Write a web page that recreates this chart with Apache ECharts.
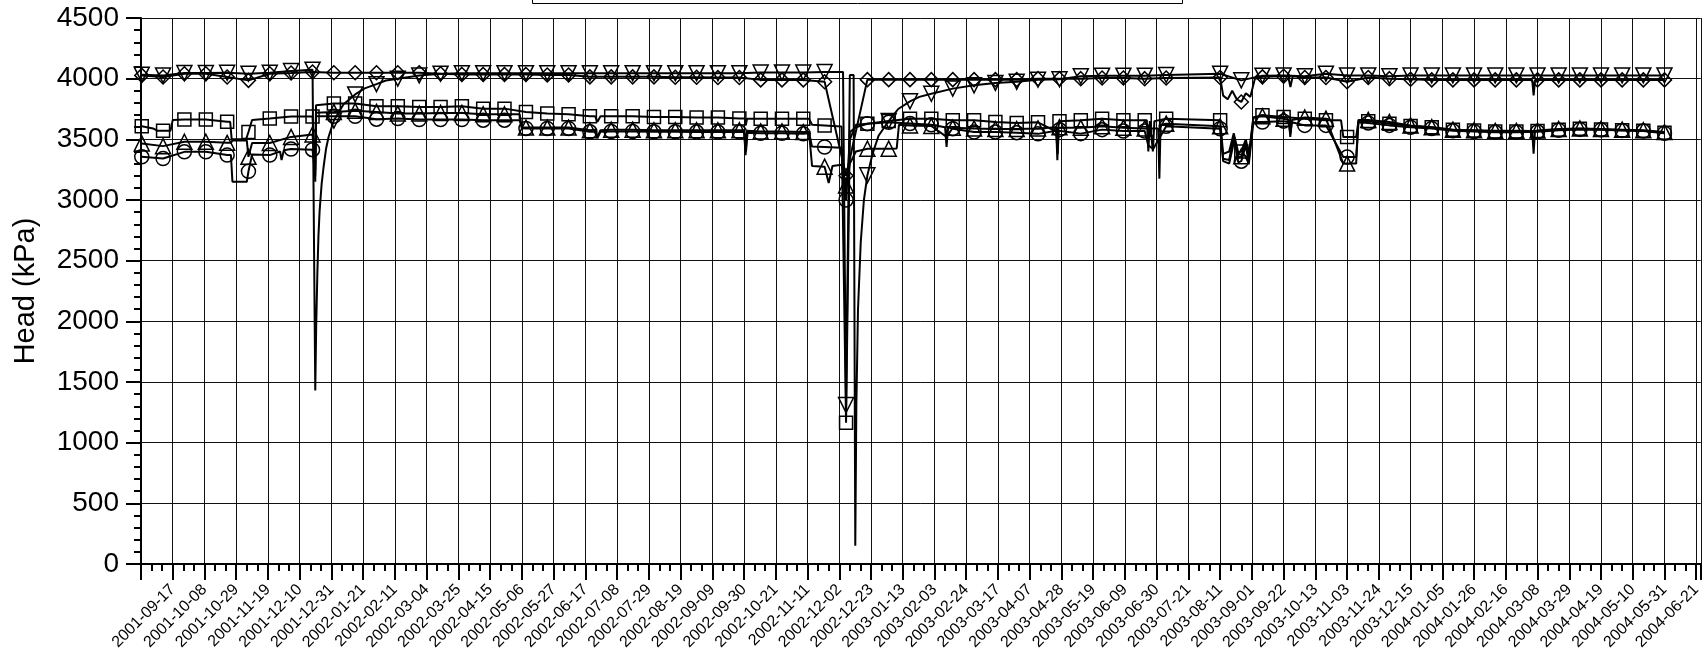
<!DOCTYPE html>
<html><head><meta charset="utf-8">
<script src="https://cdn.jsdelivr.net/npm/echarts@6/dist/echarts.min.js"></script>
<style>html,body{margin:0;padding:0;background:#fff;overflow:hidden}#c{width:1704px;height:653px}</style>
</head><body><div id="c"></div>
<script>
// x values are days after 2001-08-27
const xTickLabels = ['2001-09-17','2001-10-08','2001-10-29','2001-11-19','2001-12-10','2001-12-31','2002-01-21','2002-02-11','2002-03-04','2002-03-25','2002-04-15','2002-05-06','2002-05-27','2002-06-17','2002-07-08','2002-07-29','2002-08-19','2002-09-09','2002-09-30','2002-10-21','2002-11-11','2002-12-02','2002-12-23','2003-01-13','2003-02-03','2003-02-24','2003-03-17','2003-04-07','2003-04-28','2003-05-19','2003-06-09','2003-06-30','2003-07-21','2003-08-11','2003-09-01','2003-09-22','2003-10-13','2003-11-03','2003-11-24','2003-12-15','2004-01-05','2004-01-26','2004-02-16','2004-03-08','2004-03-29','2004-04-19','2004-05-10','2004-05-31','2004-06-21'];
const markerDays = [0.5,14.6,28.7,42.9,57.0,71.1,85.2,99.3,113.5,127.6,141.7,155.8,169.9,184.1,198.2,212.3,226.4,240.5,254.7,268.8,282.9,297.0,311.1,325.3,339.4,353.5,367.6,381.7,395.9,410.0,424.1,438.2,452.3,466.5,480.6,494.7,508.8,522.9,537.1,551.2,565.3,579.4,593.5,607.7,621.8,635.9,650.0,664.1,678.3,
714,728,742,756,770,784,798,812,826,840,854,868,882,896,910,924,938,952,966,980,994,1008];

const diamondVals = [4027,4014,4041,4041,4014,3986,4041,4047,4055,4049,4049,4049,4049,4049,4041,4035,4035,4035,4035,4030,4030,4015,4015,4015,4015,4012,4012,4010,4010,3990,3990,3990,3975,3200,3992,3992,3992,3992,3992,3992,3992,3992,4000,4000,4000,4005,4005,4000,4005,
4010,3808,4015,4020,4010,4010,3975,4010,4000,3995,3990,3990,3990,3990,3990,3990,3990,3990,3990,3990,3990,3990];
const triDownVals = [4033,4027,4047,4047,4049,4041,4049,4063,4074,3655,3870,3955,4000,4027,4041,4045,4045,4045,4045,4045,4045,4045,4045,4045,4045,4045,4045,4045,4045,4050,4050,4050,4055,1310,3203,3651,3813,3876,3918,3945,3965,3975,3992,3995,4020,4025,4025,4025,4030,
4041,3986,4025,4027,4020,4041,4027,4027,4020,4027,4027,4027,4027,4027,4027,4027,4027,4027,4027,4027,4027,4027];
const squareVals = [3608,3570,3663,3663,3644,3560,3671,3688,3688,3795,3795,3773,3773,3767,3767,3773,3753,3753,3726,3712,3707,3690,3690,3690,3685,3685,3680,3680,3671,3670,3670,3670,3615,1165,3629,3651,3670,3670,3657,3657,3643,3635,3640,3650,3657,3670,3657,3657,3670,
3657,3400,3698,3684,3670,3657,3519,3650,3629,3610,3600,3578,3572,3565,3565,3568,3580,3588,3582,3575,3570,3555];
const triUpVals = [3466,3444,3480,3480,3471,3356,3470,3520,3540,3726,3735,3726,3712,3712,3718,3718,3707,3707,3597,3597,3597,3575,3580,3580,3575,3575,3575,3575,3575,3565,3565,3560,3275,3120,3423,3423,3615,3610,3596,3590,3585,3585,3590,3600,3596,3607,3596,3590,3629,
3607,3360,3690,3670,3680,3670,3300,3660,3643,3615,3600,3580,3575,3570,3570,3572,3585,3590,3585,3580,3575,3560];
const circleVals = [3356,3342,3397,3397,3370,3236,3370,3420,3415,3690,3690,3666,3671,3663,3663,3663,3658,3658,3590,3590,3590,3562,3565,3565,3562,3562,3560,3560,3560,3550,3550,3545,3437,3000,3629,3640,3630,3620,3588,3560,3560,3555,3545,3580,3547,3580,3569,3569,3607,
3588,3320,3643,3650,3615,3615,3354,3635,3615,3600,3590,3570,3565,3558,3558,3562,3575,3582,3578,3572,3568,3550];

// extra line points between markers [day, value]
const diamondExtra = [[716,3860],[719,3830],[722,3900],[725,3830],[731,3880],[734,3850],[737,4000],[759,4020],[760.5,3931],[762,4020],[920.5,3990],[921.4,3863],[922.4,3990]];
const triDownExtra = [[114.6,4074],[115.3,1430],[115.9,1950],[116.7,2400],[117.4,2700],[118.2,2915],[119.5,3130],[120.8,3272],[122.4,3420],[124.1,3519],[134,3790],[148,3920],[162,3985],
[464.5,4055],[469,4030],[471.5,4030],[472.6,150],[473.3,1300],[474.4,2100],[476.2,2650],[478.3,3000],[484,3380],[488,3530],[501,3750],[515,3850]];
const squareExtra = [[8,3590],[11,3570],[19.5,3570],[21,3660],[59,3644],[60,3500],[69.5,3500],[73.5,3660],[114.8,3690],[115.3,3150],[115.8,3780],
[300.5,3690],[302,3644],[304,3690],[399.5,3671],[400.2,3620],[401,3670],[442,3670],[444,3620],[463.5,3605],[469,3560],[473,3600],[606.3,3560],
[665.5,3657],[666.5,3400],[667.5,3650],[669.5,3400],[670.5,3650],[716,3380],[720,3400],[723,3550],[726,3390],[731,3500],[733,3380],[736,3680],
[794,3657],[795.5,3519],[804,3519],[805.5,3650]];
const triUpExtra = [[59.5,3471],[60.5,3490],[70,3490],[73.5,3470],[114.8,3545],[115.3,3250],[115.8,3720],[250.5,3707],[252,3600],
[300.5,3580],[302,3520],[304,3575],[399,3575],[400,3370],[401,3570],[442,3560],[444,3280],[455,3140],[457.5,3280],[463.5,3290],[469,3300],[473,3400],[500,3425],[501.5,3620],
[533,3520],[605.5,3600],[606.3,3327],[607,3595],[673,3590],[673.8,3176],[674.6,3620],[716,3340],[720,3330],[723,3530],[726,3350],[731,3470],[733,3330],[736,3680],
[759.5,3660],[760.4,3519],[761.5,3660],[795.5,3300],[804,3300],[805.5,3660],[920.5,3568],[921.4,3382],[922.3,3568]];
const circleExtra = [[59.5,3370],[60.5,3150],[70,3150],[73.5,3375],[92,3400],[93,3330],[94.5,3410],[114.8,3415],[115.3,3200],[115.8,3690],[250.5,3658],[252,3592],
[300.5,3565],[302,3510],[304,3562],[399,3560],[400.3,3400],[401.3,3555],[442,3550],[444,3440],[463.5,3430],[469,3500],[473,3620],
[532,3600],[533,3437],[534,3600],[605.5,3570],[606.5,3380],[607.2,3570],[666.5,3450],[669.7,3420],[716,3320],[720,3300],[723.5,3500],[726,3310],[731,3450],[733,3300],[736,3640],
[759.5,3640],[760.4,3540],[761.5,3640],[795.5,3354],[804,3354],[805.5,3640]];

function build(vals, extra) {
  const pts = markerDays.map((d, i) => ({ value: [d, vals[i]] }));
  extra.forEach(p => pts.push({ value: [p[0], p[1]], symbol: 'none' }));
  pts.sort((a, b) => a.value[0] - b.value[0]);
  return pts;
}
function mk(name, vals, extra, symbol, size, rot) {
  return {
    name, type: 'line', data: build(vals, extra), symbol, symbolSize: size, symbolRotate: rot || 0,
    showAllSymbol: true, smooth: false,
    lineStyle: { color: '#000', width: 2 },
    itemStyle: { color: 'rgba(0,0,0,0)', borderColor: '#000', borderWidth: 1.5 },
    emphasis: { disabled: true }
  };
}

const chart = echarts.init(document.getElementById('c'), null, { renderer: 'canvas' });
const F = 'Liberation Sans, Arial, sans-serif';
chart.setOption({
  animation: false,
  backgroundColor: '#fff',
  grid: { left: 141, right: -6, top: 18, bottom: 89, containLabel: false },
  xAxis: {
    type: 'value', min: 0, max: 1032, interval: 21,
    axisLine: { lineStyle: { color: '#000', width: 2 } },
    axisTick: { length: 16, lineStyle: { color: '#000', width: 2 } },
    minorTick: { show: true, splitNumber: 3, length: 7, lineStyle: { color: '#000', width: 2 } },
    splitLine: { show: true, lineStyle: { color: '#111', width: 1 } },
    axisLabel: {
      rotate: 45, margin: 23, color: '#000', fontSize: 16, fontFamily: F,
      showMinLabel: false, showMaxLabel: false,
      formatter: function (v) {
        const k = Math.round(v / 21) - 1;
        if (Math.abs(v - 21 * (k + 1)) < 0.01 && k >= 0 && k < xTickLabels.length) return xTickLabels[k];
        return '';
      }
    }
  },
  yAxis: {
    type: 'value', min: 0, max: 4500, interval: 500,
    name: 'Head (kPa)', nameLocation: 'middle', nameGap: 101,
    nameTextStyle: { fontSize: 29, color: '#000', fontFamily: F },
    axisLine: { show: true, lineStyle: { color: '#000', width: 2 } },
    axisTick: { show: true, length: 15, lineStyle: { color: '#000', width: 2 } },
    minorTick: { show: true, splitNumber: 5, length: 7, lineStyle: { color: '#000', width: 2 } },
    splitLine: { show: true, lineStyle: { color: '#111', width: 1 } },
    axisLabel: { margin: 22, color: '#000', fontSize: 28, fontFamily: F, formatter: v => String(v) }
  },
  graphic: [{
    type: 'rect', shape: { x: 532.5, y: -30.5, width: 650, height: 34 },
    style: { fill: 'none', stroke: '#000', lineWidth: 1 }, silent: true
  }],
  series: [
    mk('Square', squareVals, squareExtra, 'rect', 13),
    mk('Triangle up', triUpVals, triUpExtra, 'triangle', 15),
    mk('Circle', circleVals, circleExtra, 'circle', 14),
    mk('Diamond', diamondVals, diamondExtra, 'diamond', 14),
    mk('Triangle down', triDownVals, triDownExtra, 'triangle', 15, 180)
  ]
});
</script>
</body></html>
